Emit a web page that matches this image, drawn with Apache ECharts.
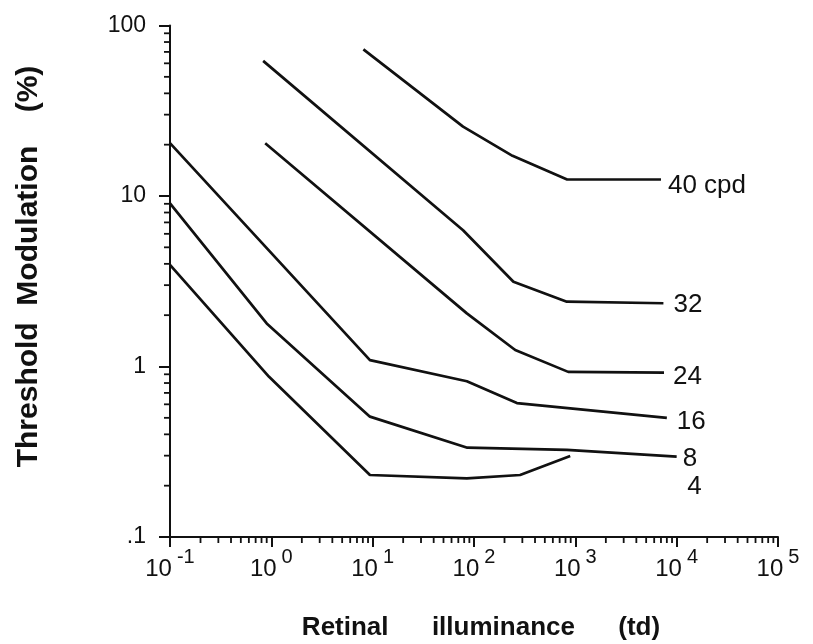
<!DOCTYPE html>
<html>
<head>
<meta charset="utf-8">
<script src="https://cdn.jsdelivr.net/npm/echarts@6/dist/echarts.min.js"></script>
<style>
  html, body { margin: 0; padding: 0; background: #ffffff; }
  #chart { width: 813px; height: 644px; }
</style>
</head>
<body>
<div id="chart"></div>
<script>
// Threshold modulation vs. retinal illuminance, one curve per spatial frequency.
// Each point: [retinal illuminance (td), threshold modulation (%)]
const frequencyLabels = ['40 cpd', '32', '24', '16', '8', '4'];
const curve40 = [[8.1, 72.5], [78, 25.5], [240, 17.2], [830, 12.5], [7000, 12.5]];
const curve32 = [[0.83, 62], [78, 6.3], [245, 3.14], [824, 2.4], [7400, 2.35]];
const curve24 = [[0.87, 20.4], [85, 2.05], [255, 1.25], [850, 0.93], [7500, 0.92]];
const curve16 = [[0.1, 20.4], [9.4, 1.09], [85, 0.82], [265, 0.61], [8000, 0.5]];
const curve8  = [[0.1, 9.06], [0.9, 1.79], [9.4, 0.508], [86, 0.334], [824, 0.324], [10000, 0.296]];
const curve4  = [[0.1, 3.94], [0.95, 0.87], [9.4, 0.231], [85, 0.221], [285, 0.231], [890, 0.299]];

const yTickLabels = ['.1', '1', '10', '100'];
const xTickExponents = ['-1', '0', '1', '2', '3', '4', '5'];
const xTitle = 'Retinal      illuminance      (td)';
const yTitle = 'Threshold  Modulation    (%)';

const curves = [curve40, curve32, curve24, curve16, curve8, curve4];
// where each curve's name sits relative to its last point
const labelOffsets = [[7, 6], [10, 2], [9, 4], [10, 4], [6, 2], [117, 31]];

const FONT = '"Liberation Sans", Arial, Helvetica, sans-serif';
const INK = '#111111';

// minor ticks at 2..9 within each decade
function decadeMinors(fromExp, toExp) {
  const out = [];
  for (let e = fromExp; e < toExp; e++) {
    for (let m = 2; m <= 9; m++) out.push(m * Math.pow(10, e));
  }
  return out;
}
const xMinor = decadeMinors(-1, 5).map(v => [v, 0.1]);
const yMinor = decadeMinors(-1, 2).map(v => [0.1, v]);

function minorTicks(dir) {
  return function (params, api) {
    const p = api.coord([api.value(0), api.value(1)]);
    const len = 6;
    return {
      type: 'line',
      shape: dir === 'x'
        ? { x1: p[0], y1: p[1], x2: p[0], y2: p[1] + len }
        : { x1: p[0], y1: p[1], x2: p[0] - len, y2: p[1] },
      style: { stroke: INK, lineWidth: 1.8 }
    };
  };
}

const lineSeries = curves.map((data, i) => ({
  name: frequencyLabels[i],
  type: 'line',
  data: data,
  showSymbol: false,
  symbol: 'none',
  lineStyle: { color: INK, width: 2.7 },
  itemStyle: { color: INK },
  silent: true,
  animation: false,
  endLabel: {
    show: true,
    formatter: frequencyLabels[i],
    distance: 0,
    offset: labelOffsets[i],
    color: INK,
    fontSize: 26,
    fontFamily: FONT
  }
}));

const chart = echarts.init(document.getElementById('chart'), null, { renderer: 'canvas' });
chart.setOption({
  backgroundColor: '#ffffff',
  animation: false,
  grid: { left: 170, right: 35, top: 25.5, bottom: 107, containLabel: false, outerBoundsMode: 'none' },
  xAxis: {
    type: 'log',
    logBase: 10,
    min: 0.1,
    max: 100000,
    axisLine: { show: true, onZero: false, lineStyle: { color: INK, width: 2 } },
    axisTick: { show: true, inside: false, length: 10, lineStyle: { color: INK, width: 2 } },
    minorTick: { show: false },
    splitLine: { show: false },
    axisLabel: {
      margin: 10,
      color: INK,
      formatter: function (v) {
        const e = Math.round(Math.log10(v));
        return '{b|10}{s|' + xTickExponents[e + 1] + '}';
      },
      rich: {
        b: { fontSize: 24, fontFamily: FONT, color: INK, lineHeight: 34, verticalAlign: 'bottom' },
        s: { fontSize: 20, fontFamily: FONT, color: INK, lineHeight: 30, verticalAlign: 'top', padding: [0, 0, 0, 5] }
      }
    }
  },
  yAxis: {
    type: 'log',
    logBase: 10,
    min: 0.1,
    max: 100,
    axisLine: { show: true, onZero: false, lineStyle: { color: INK, width: 2 } },
    axisTick: { show: true, inside: false, length: 11, lineStyle: { color: INK, width: 2 } },
    minorTick: { show: false },
    splitLine: { show: false },
    axisLabel: {
      margin: 24,
      color: INK,
      fontSize: 23,
      fontFamily: FONT,
      formatter: function (v) {
        const e = Math.round(Math.log10(v));
        return yTickLabels[e + 1];
      }
    }
  },
  graphic: [
    {
      type: 'text', x: 28.5, y: 266.5, rotation: Math.PI / 2,
      style: { text: yTitle, fontSize: 30, fontWeight: 'bold', fontFamily: FONT, fill: INK, align: 'center', verticalAlign: 'middle' }
    },
    {
      type: 'text', x: 481, y: 628,
      style: { text: xTitle, fontSize: 26, fontWeight: 'bold', fontFamily: FONT, fill: INK, align: 'center', verticalAlign: 'middle' }
    }
  ],
  series: lineSeries.concat([
    { type: 'custom', name: 'x minor ticks', renderItem: minorTicks('x'), data: xMinor, clip: false, silent: true, animation: false },
    { type: 'custom', name: 'y minor ticks', renderItem: minorTicks('y'), data: yMinor, clip: false, silent: true, animation: false }
  ])
});
</script>
</body>
</html>
